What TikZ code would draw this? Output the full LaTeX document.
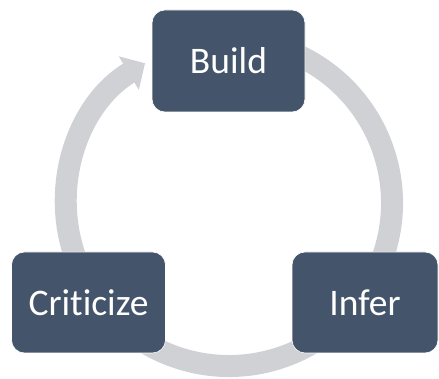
\documentclass[tikz,border=0pt]{standalone}
\usepackage{fontspec}
\setmainfont{Carlito}[Ligatures={NoCommon}]
\usetikzlibrary{arrows.meta,calc}
\definecolor{boxblue}{HTML}{44546A}
\definecolor{ringgray}{HTML}{D0D1D5}
\tikzset{
  stagebox/.style={fill=boxblue, draw=white, line width=0.6pt, rounded corners=13pt,
    text=white, font=\fontsize{37.5}{42}\selectfont, inner sep=0pt, anchor=center},
  ring/.style={draw=ringgray, line width=22pt, -{Triangle[width=38pt,length=19pt]}}
}
\begin{document}
\begin{tikzpicture}[x=1pt,y=1pt]
\useasboundingbox (0,0) rectangle (439,379);
\coordinate (c) at (229,176);
\coordinate (ringstart) at ($(c)+(470:163)$);
\draw[ring] (ringstart) arc[start angle=470, end angle=121, radius=163];
\node[stagebox, minimum width=153pt, minimum height=102pt] (build) at (228.5,318) {Build};
\node[stagebox, minimum width=154pt, minimum height=101pt] (criticize) at (88.5,76.5) {Criticize};
\node[stagebox, minimum width=146pt, minimum height=101pt] (infer) at (365,76.5) {Infer};
\end{tikzpicture}
\end{document}
